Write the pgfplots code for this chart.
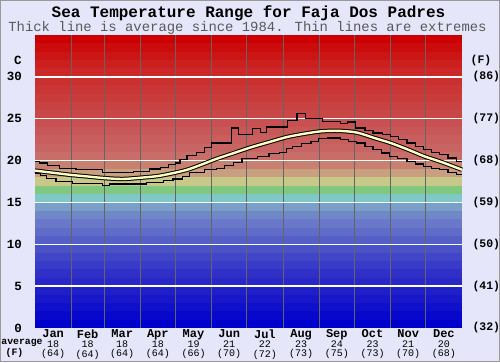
\documentclass[border=0pt]{standalone}
\usepackage{fontspec}
\setmainfont{Liberation Mono}
\usepackage{pgfplots}
\pgfplotsset{compat=1.18}
\definecolor{bgl}{RGB}{230,230,250}
\definecolor{b0}{RGB}{0,0,204}
\definecolor{b1}{RGB}{8,8,204}
\definecolor{b2}{RGB}{16,16,204}
\definecolor{b3}{RGB}{24,24,202}
\definecolor{b4}{RGB}{32,32,200}
\definecolor{b5}{RGB}{40,40,200}
\definecolor{b6}{RGB}{48,48,200}
\definecolor{b7}{RGB}{56,58,200}
\definecolor{b8}{RGB}{65,70,200}
\definecolor{b9}{RGB}{75,82,200}
\definecolor{b10}{RGB}{85,95,200}
\definecolor{b11}{RGB}{96,108,200}
\definecolor{b12}{RGB}{105,120,200}
\definecolor{b13}{RGB}{112,136,200}
\definecolor{b14}{RGB}{120,160,200}
\definecolor{b15}{RGB}{128,200,200}
\definecolor{b16}{RGB}{128,200,128}
\definecolor{b17}{RGB}{200,200,136}
\definecolor{b18}{RGB}{200,160,128}
\definecolor{b19}{RGB}{200,128,112}
\definecolor{b20}{RGB}{200,110,105}
\definecolor{b21}{RGB}{200,100,100}
\definecolor{b22}{RGB}{200,94,94}
\definecolor{b23}{RGB}{200,88,88}
\definecolor{b24}{RGB}{200,80,80}
\definecolor{b25}{RGB}{200,72,72}
\definecolor{b26}{RGB}{200,66,66}
\definecolor{b27}{RGB}{202,60,60}
\definecolor{b28}{RGB}{202,54,54}
\definecolor{b29}{RGB}{202,48,48}
\definecolor{b30}{RGB}{204,40,40}
\definecolor{b31}{RGB}{204,32,32}
\definecolor{b32}{RGB}{204,22,22}
\definecolor{b33}{RGB}{204,12,12}
\definecolor{b34}{RGB}{204,0,0}
\definecolor{avgy}{RGB}{255,255,192}
\definecolor{vgrid}{RGB}{100,100,100}
\begin{document}
\begin{tikzpicture}
\fill[bgl] (0pt,0pt) rectangle (500pt,362pt);
\draw[gray!80, line width=1pt] (0.5pt,0.5pt) rectangle (499.5pt,361.5pt);
\path[use as bounding box] (0pt,0pt) rectangle (500pt,362pt);
\node[font=\fontsize{16}{16}\selectfont\bfseries] at (248.5pt,348.7pt) {Sea Temperature Range for Faja Dos Padres};
\node[font=\fontsize{13.9}{14}\selectfont, text=black!65] at (247.5pt,333.7pt) {Thick line is average since 1984. Thin lines are extremes};
\node[font=\fontsize{9.8}{10}\selectfont\bfseries] at (22pt,18.7pt) {average};
\node[font=\fontsize{9.8}{10}\selectfont\bfseries] at (14.5pt,9.4pt) {(F)};
\begin{axis}[
  at={(35pt,34pt)}, anchor=origin, scale only axis,
  width=427pt, height=293pt,
  xmin=0, xmax=365, ymin=0, ymax=35,
  clip=false,
  axis line style={draw=none}, tick style={draw=none},
  ytick={0,5,10,15,20,25,30},
  yticklabels={0,5,10,15,20,25,30},
  yticklabel style={font=\fontsize{12.5}{13}\selectfont\bfseries, anchor=east, inner sep=0pt, xshift=-13pt},
  xtick={15.5,45,74.5,105,135.5,166,196.5,227.5,258,288.5,319,349.5},
  xticklabels={
    {{\fontsize{12}{12}\selectfont\bfseries Jan}\\18\\(64)},
    {{\fontsize{12}{12}\selectfont\bfseries Feb}\\18\\(64)},
    {{\fontsize{12}{12}\selectfont\bfseries Mar}\\18\\(64)},
    {{\fontsize{12}{12}\selectfont\bfseries Apr}\\18\\(64)},
    {{\fontsize{12}{12}\selectfont\bfseries May}\\19\\(66)},
    {{\fontsize{12}{12}\selectfont\bfseries Jun}\\21\\(70)},
    {{\fontsize{12}{12}\selectfont\bfseries Jul}\\22\\(72)},
    {{\fontsize{12}{12}\selectfont\bfseries Aug}\\23\\(73)},
    {{\fontsize{12}{12}\selectfont\bfseries Sep}\\24\\(75)},
    {{\fontsize{12}{12}\selectfont\bfseries Oct}\\23\\(73)},
    {{\fontsize{12}{12}\selectfont\bfseries Nov}\\21\\(70)},
    {{\fontsize{12}{12}\selectfont\bfseries Dec}\\20\\(68)}},
  xticklabel style={align=center, anchor=north, inner sep=0pt, yshift=-1.5pt, font=\fontsize{10}{9.6}\selectfont},
]
\pgfplotsinvokeforeach{0,...,34}{
  \fill[b#1] (axis cs:0,#1) rectangle (axis cs:365,#1+1.02);
}
\pgfplotsinvokeforeach{31,59,90,120,151,181,212,243,273,304,334}{
  \draw[vgrid, line width=0.9pt] (axis cs:#1,0) -- (axis cs:#1,35);
}
\pgfplotsinvokeforeach{5,10,15,20,25,30}{
  \draw[white, line width=1.4pt] (axis cs:0,#1) -- (axis cs:365,#1);
}
% max
\addplot[const plot, black, line width=1.2pt] coordinates {
(0,19.9)(4,19.7)(11,19.4)(21,19.1)(35,18.9)(58,18.6)(84,18.7)(98,19.0)(107,19.2)(114,19.5)(120,19.7)(124,20.1)(130,20.6)(138,21.0)(145,21.6)(151,22.1)(168,23.9)(174,23.1)(186,23.8)(193,23.4)(198,24.0)(216,24.8)(224,25.6)(231,25.0)(246,24.7)(261,24.4)(267,24.6)(274,23.9)(282,23.6)(289,23.3)(297,23.1)(304,22.9)(311,22.5)(318,22.1)(325,21.7)(332,21.3)(339,21.0)(346,20.7)(353,20.3)(360,19.9)(365,19.9)};
% min
\addplot[const plot, black, line width=1.2pt] coordinates {
(0,18.5)(5,18.2)(10,17.9)(18,17.5)(32,17.3)(58,17.0)(64,17.2)(95,17.4)(110,17.6)(118,17.8)(126,18.1)(132,18.6)(145,18.9)(155,19.1)(162,19.4)(170,19.8)(177,20.2)(190,20.5)(200,20.8)(209,21.0)(215,21.4)(220,21.7)(228,22.0)(236,22.3)(242,22.6)(250,22.7)(261,22.5)(268,22.3)(275,22.1)(282,21.7)(289,21.3)(296,20.9)(303,20.5)(310,20.2)(318,19.9)(325,19.6)(332,19.3)(339,19.1)(346,18.9)(353,18.6)(360,18.3)(365,18.3)};
% average
\addplot[smooth, black, line width=4.4pt] coordinates {
(0,18.8)(15,18.55)(30,18.3)(45,18.1)(60,17.9)(75,17.8)(90,17.95)(105,18.15)(118,18.5)(130,18.9)(142,19.5)(155,20.2)(170,20.9)(185,21.6)(200,22.2)(215,22.8)(230,23.2)(245,23.5)(260,23.55)(275,23.35)(290,22.7)(304,22.1)(319,21.3)(333,20.5)(348,19.8)(365,18.9)};
\addplot[smooth, avgy, line width=2.4pt] coordinates {
(0,18.8)(15,18.55)(30,18.3)(45,18.1)(60,17.9)(75,17.8)(90,17.95)(105,18.15)(118,18.5)(130,18.9)(142,19.5)(155,20.2)(170,20.9)(185,21.6)(200,22.2)(215,22.8)(230,23.2)(245,23.5)(260,23.55)(275,23.35)(290,22.7)(304,22.1)(319,21.3)(333,20.5)(348,19.8)(365,18.9)};
\node[font=\fontsize{12.5}{13}\selectfont\bfseries] at (axis cs:0,32) [xshift=-17pt] {C};
\node[font=\fontsize{11.5}{12}\selectfont\bfseries] at (axis cs:365,32) [xshift=19pt] {(F)};
\node[font=\fontsize{11.5}{12}\selectfont\bfseries, anchor=west] at (axis cs:365,30) [xshift=7pt] {(86)};
\node[font=\fontsize{11.5}{12}\selectfont\bfseries, anchor=west] at (axis cs:365,25) [xshift=7pt] {(77)};
\node[font=\fontsize{11.5}{12}\selectfont\bfseries, anchor=west] at (axis cs:365,20) [xshift=7pt] {(68)};
\node[font=\fontsize{11.5}{12}\selectfont\bfseries, anchor=west] at (axis cs:365,15) [xshift=7pt] {(59)};
\node[font=\fontsize{11.5}{12}\selectfont\bfseries, anchor=west] at (axis cs:365,10) [xshift=7pt] {(50)};
\node[font=\fontsize{11.5}{12}\selectfont\bfseries, anchor=west] at (axis cs:365,5) [xshift=7pt] {(41)};
\node[font=\fontsize{11.5}{12}\selectfont\bfseries, anchor=west] at (axis cs:365,0) [xshift=7pt] {(32)};
\end{axis}
\end{tikzpicture}
\end{document}
